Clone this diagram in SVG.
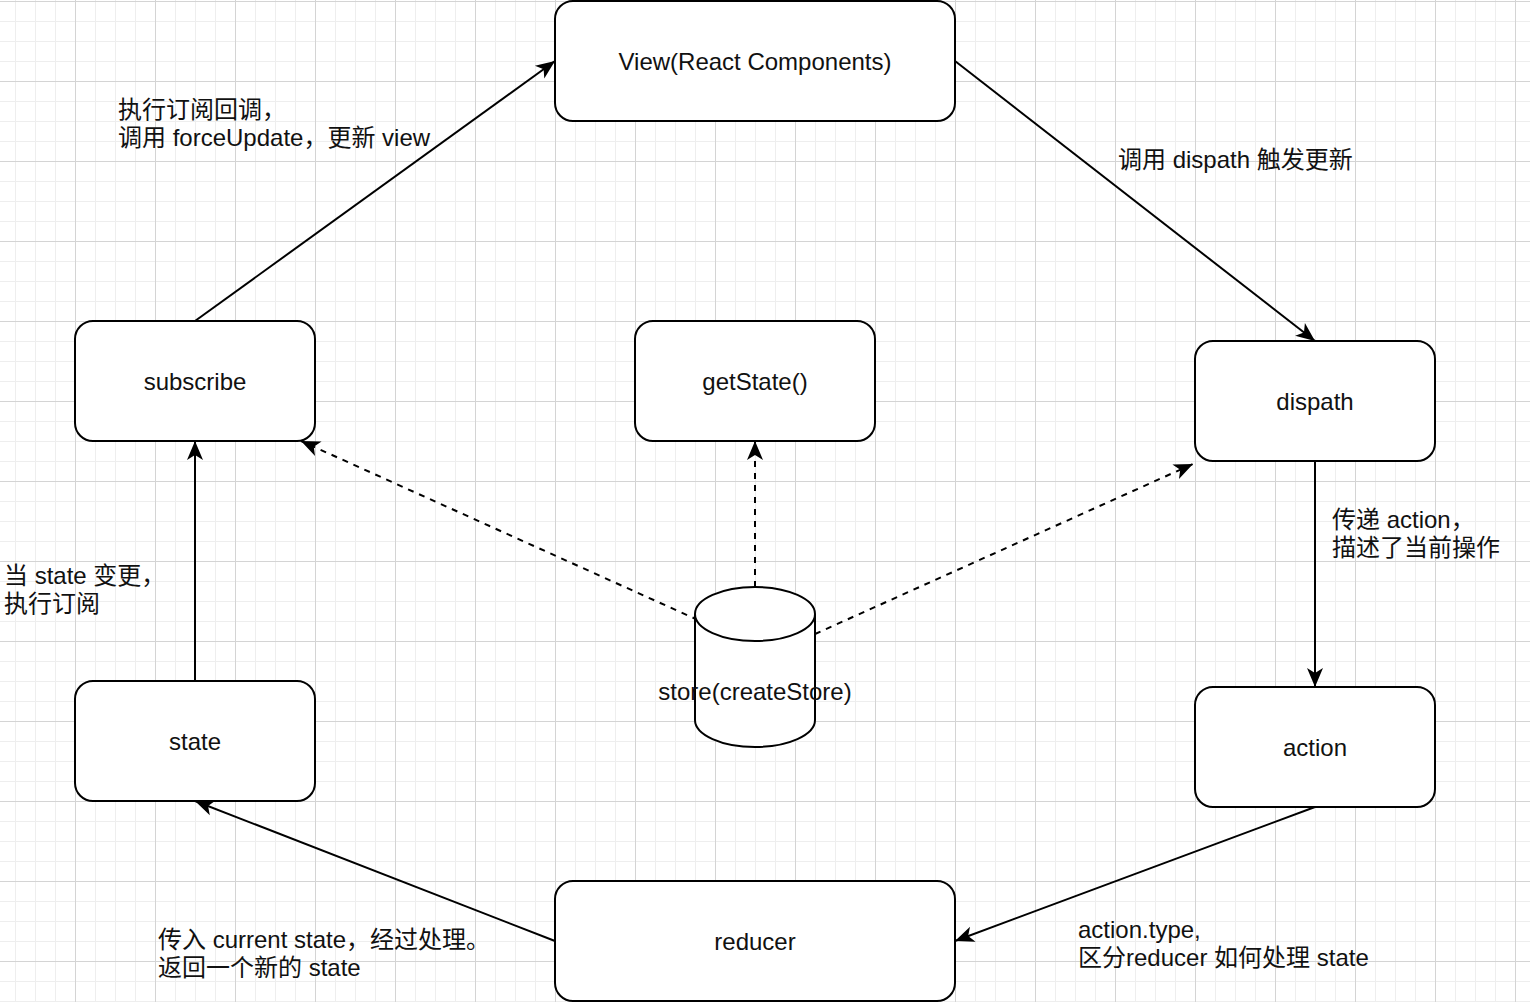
<svg xmlns="http://www.w3.org/2000/svg" width="1530" height="1002" viewBox="0 0 1530 1002">
<defs>
<pattern id="grid" patternUnits="userSpaceOnUse" x="-5" y="1" width="80" height="80">
<rect x="0" y="0" width="80" height="80" fill="#ffffff"/>
<rect x="20" y="0" width="1" height="80" fill="#eeeeee"/>
<rect x="40" y="0" width="1" height="80" fill="#eeeeee"/>
<rect x="60" y="0" width="1" height="80" fill="#eeeeee"/>
<rect x="0" y="20" width="80" height="1" fill="#eeeeee"/>
<rect x="0" y="40" width="80" height="1" fill="#eeeeee"/>
<rect x="0" y="60" width="80" height="1" fill="#eeeeee"/>
<rect x="0" y="0" width="1" height="80" fill="#d4d4d4"/>
<rect x="0" y="0" width="80" height="1" fill="#d4d4d4"/>
</pattern>
<marker id="arr" markerUnits="userSpaceOnUse" markerWidth="22" markerHeight="18" refX="19" refY="8" orient="auto" overflow="visible">
<path d="M0,0 L19,8 L0,16 L5,8 Z" fill="#000"/>
</marker>
</defs>
<style>
.box{fill:#ffffff;stroke:#000;stroke-width:2}
.lbl{font-family:"Liberation Sans","Noto Sans CJK SC",sans-serif;font-size:24px;fill:#111}
.c{text-anchor:middle}
.edge{fill:none;stroke:#000;stroke-width:2;marker-end:url(#arr)}
.dash{stroke-dasharray:6 6}
</style>
<rect x="0" y="0" width="1530" height="1002" fill="url(#grid)"/>

<g id="connectors">
<line class="edge" x1="195" y1="321" x2="555" y2="61"/>
<line class="edge" x1="955" y1="61" x2="1315" y2="341"/>
<line class="edge" x1="1315" y1="461" x2="1315" y2="687"/>
<line class="edge" x1="1315" y1="807" x2="955" y2="941"/>
<line class="edge" x1="555" y1="941" x2="195" y2="801"/>
<line class="edge" x1="195" y1="681" x2="195" y2="441"/>
<line class="edge dash" x1="698" y1="620" x2="301" y2="441"/>
<line class="edge dash" x1="755" y1="587" x2="755" y2="441"/>
<line class="edge dash" x1="815" y1="634" x2="1193" y2="464"/>
</g>

<g id="edge-labels">
<text class="lbl" x="118" y="118">执行订阅回调，</text>
<text class="lbl" x="118" y="146">调用 forceUpdate，更新 view</text>
<text class="lbl" x="1118" y="168">调用 dispath 触发更新</text>
<text class="lbl" x="1332" y="528">传递 action，</text>
<text class="lbl" x="1332" y="556">描述了当前操作</text>
<text class="lbl" x="4" y="584">当 state 变更，</text>
<text class="lbl" x="4" y="612">执行订阅</text>
<text class="lbl" x="1078" y="938">action.type,</text>
<text class="lbl" x="1078" y="966">区分reducer 如何处理 state</text>
<text class="lbl" x="158" y="948">传入 current state，经过处理。</text>
<text class="lbl" x="158" y="976">返回一个新的 state</text>
</g>

<g id="node-view">
<rect class="box" x="555" y="1" width="400" height="120" rx="18" ry="18"/>
<text class="lbl c" x="755" y="70">View(React Components)</text>
</g>
<g id="node-subscribe">
<rect class="box" x="75" y="321" width="240" height="120" rx="18" ry="18"/>
<text class="lbl c" x="195" y="390">subscribe</text>
</g>
<g id="node-getstate">
<rect class="box" x="635" y="321" width="240" height="120" rx="18" ry="18"/>
<text class="lbl c" x="755" y="390">getState()</text>
</g>
<g id="node-dispath">
<rect class="box" x="1195" y="341" width="240" height="120" rx="18" ry="18"/>
<text class="lbl c" x="1315" y="410">dispath</text>
</g>
<g id="node-state">
<rect class="box" x="75" y="681" width="240" height="120" rx="18" ry="18"/>
<text class="lbl c" x="195" y="750">state</text>
</g>
<g id="node-action">
<rect class="box" x="1195" y="687" width="240" height="120" rx="18" ry="18"/>
<text class="lbl c" x="1315" y="756">action</text>
</g>
<g id="node-reducer">
<rect class="box" x="555" y="881" width="400" height="120" rx="18" ry="18"/>
<text class="lbl c" x="755" y="950">reducer</text>
</g>
<g id="node-store">
<path class="box" d="M695,614 A60,27 0 0 1 815,614 L815,720 A60,27 0 0 1 695,720 Z"/>
<path d="M695,614 A60,27 0 0 0 815,614" fill="none" stroke="#000" stroke-width="2"/>
<text class="lbl c" x="755" y="700">store(createStore)</text>
</g>
</svg>
